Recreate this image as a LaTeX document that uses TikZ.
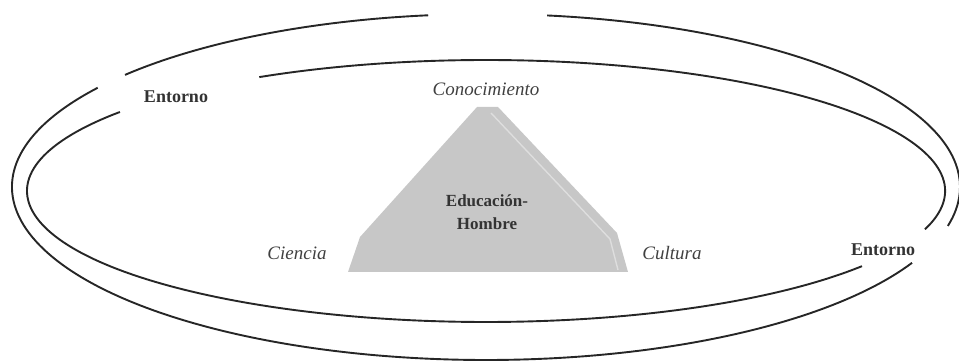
\documentclass[tikz,border=0pt]{standalone}
\usepackage{fontspec}
\setmainfont{Liberation Serif}
\usetikzlibrary{positioning}

\begin{document}
\begin{tikzpicture}[x=1pt, y=1pt,
    ring/.style={line width=1.9pt, black!85},
    place/.style={font=\fontsize{18}{20}\selectfont\bfseries, text=black!80},
    pole/.style={font=\fontsize{19}{21}\selectfont\itshape, text=black!75}]
  \useasboundingbox (0,0) rectangle (959,364);

  % centres of the two rings
  \coordinate (outer) at (486,177);
  \coordinate (inner) at (486,173);

  % outer ring, three pieces
  \draw[ring] (outer) ++(97:474 and 173) arc[start angle=97, end angle=139.6, x radius=474, y radius=173];
  \draw[ring] (outer) ++(145:474 and 173) arc[start angle=145, end angle=334, x radius=474, y radius=173];
  \draw[ring] (outer) ++(-13:474 and 173) arc[start angle=-13, end angle=82.6, x radius=474, y radius=173];

  % inner ring, two pieces
  \draw[ring] (inner) ++(142.9:459 and 131) arc[start angle=142.9, end angle=325, x radius=459, y radius=131];
  \draw[ring] (inner) ++(-17:459 and 131) arc[start angle=-17, end angle=119.6, x radius=459, y radius=131];

  % pyramid
  \coordinate (bl) at (348,92);
  \coordinate (ml) at (360,127);
  \coordinate (tl) at (477,257);
  \coordinate (tr) at (498,257);
  \coordinate (mr) at (617,131);
  \coordinate (br) at (628,92);
  \fill[black!22] (bl) -- (ml) -- (tl) -- (tr) -- (mr) -- (br) -- cycle;
  \draw[black!13, line width=1.4pt] (491,251) -- (610,125) -- (618,94);

  \node[font=\fontsize{17}{23}\selectfont\bfseries, text=black!80, align=center] (core) at (487,152) {Educación-\\Hombre};

  \node[pole] (conoc) at (486,275) {Conocimiento};
  \node[pole] (ciencia) at (297,111) {Ciencia};
  \node[pole] (cultura) at (672,111) {Cultura};

  \node[place] (env1) at (176,267) {Entorno};
  \node[place] (env2) at (883,114) {Entorno};
\end{tikzpicture}
\end{document}
